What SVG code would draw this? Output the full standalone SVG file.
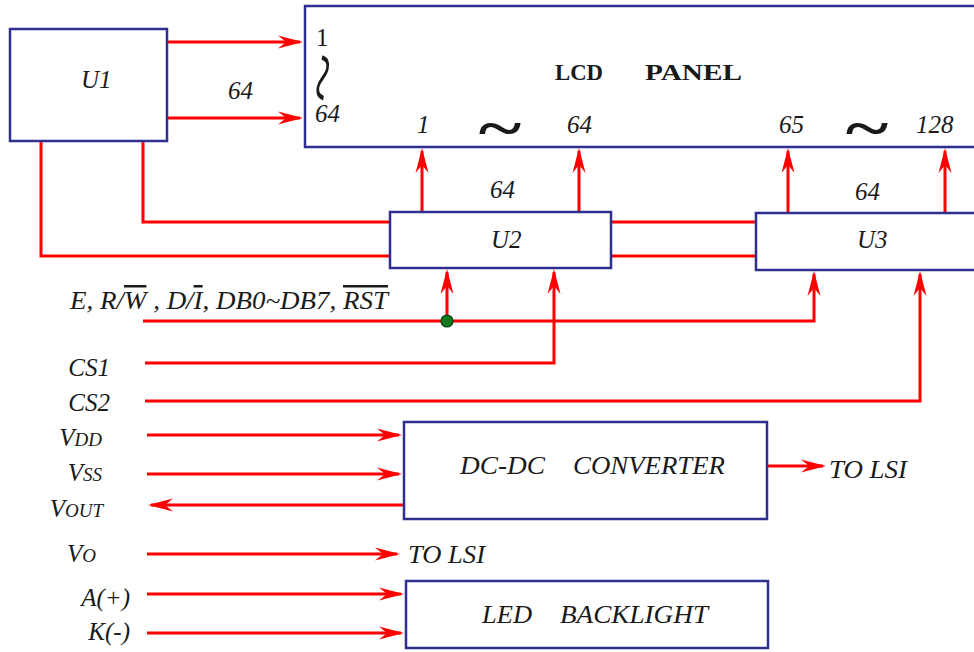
<svg xmlns="http://www.w3.org/2000/svg" width="974" height="652" viewBox="0 0 974 652">
<style>
.box{fill:#fff;stroke:#2f2f8f;stroke-width:2.5}
.w{fill:none;stroke:#ff0000;stroke-width:3}
.wa{fill:none;stroke:#ff0000;stroke-width:3;marker-end:url(#ah)}
.t{fill:#1a1a1a}
</style>
<defs>
<marker id="ah" markerUnits="userSpaceOnUse" viewBox="-24 -8 28 16" markerWidth="28" markerHeight="16" refX="0" refY="0" orient="auto">
<path d="M3,0 L-22,-6.5 L-14,0 L-22,6.5 Z" fill="#ff0000"/>
</marker>
</defs>
<rect width="974" height="652" fill="#fff"/>
<g font-family="'Liberation Serif', serif">
<g id="connectors">
<line class="wa" x1="167" y1="42" x2="300" y2="42"/>
<line class="wa" x1="167" y1="118" x2="300" y2="118"/>
<polyline class="w" points="41,141 41,256 390,256"/>
<polyline class="w" points="143,141 143,222 390,222"/>
<line class="w" x1="611" y1="222" x2="756" y2="222"/>
<line class="w" x1="611" y1="256" x2="756" y2="256"/>
<line class="wa" x1="422" y1="211" x2="422" y2="151"/>
<line class="wa" x1="579" y1="211" x2="579" y2="151"/>
<line class="wa" x1="788" y1="212" x2="788" y2="151"/>
<line class="wa" x1="945" y1="212" x2="945" y2="151"/>
<polyline class="wa" points="143,321 814,321 814,274"/>
<line class="wa" x1="447" y1="321" x2="447" y2="272"/>
<polyline class="wa" points="145,363 554,363 554,272"/>
<polyline class="wa" points="145,401 920,401 920,274"/>
<line class="wa" x1="147" y1="435" x2="399" y2="435"/>
<line class="wa" x1="147" y1="474" x2="399" y2="474"/>
<line class="wa" x1="404" y1="505" x2="151" y2="505"/>
<line class="wa" x1="147" y1="554" x2="397" y2="554"/>
<line class="wa" x1="147" y1="594" x2="401" y2="594"/>
<line class="wa" x1="147" y1="633" x2="401" y2="633"/>
<line class="wa" x1="767" y1="466" x2="823" y2="466"/>
<circle cx="447" cy="321" r="6" fill="#0b7a1e" stroke="#063d0f" stroke-width="1.2"/>
</g>

<g id="U1">
<rect class="box" x="10" y="29" width="157" height="112"/>
<text class="t" x="81" y="88" font-family="'Liberation Serif', serif" font-size="25" font-style="italic">U1</text>
</g>
<text class="t" x="228" y="99" font-family="'Liberation Serif', serif" font-size="25" font-style="italic">64</text>

<g id="LCD">
<rect class="box" x="305" y="6" width="700" height="141"/>
<text class="t" x="316" y="46" font-family="'Liberation Serif', serif" font-size="25">1</text>
<text class="t" transform="translate(323,78) rotate(100) scale(2.7,1.5)" font-family="'Liberation Serif', serif" font-size="34" text-anchor="middle" dominant-baseline="central">~</text>
<text class="t" x="315" y="122" font-family="'Liberation Serif', serif" font-size="25" font-style="italic">64</text>
<text class="t" x="555" y="80" font-family="'Liberation Serif', serif" font-size="24" font-weight="bold" textLength="48" lengthAdjust="spacingAndGlyphs">LCD</text>
<text class="t" x="645" y="80" font-family="'Liberation Serif', serif" font-size="24" font-weight="bold" textLength="97" lengthAdjust="spacingAndGlyphs">PANEL</text>
<text class="t" x="417" y="133" font-family="'Liberation Serif', serif" font-size="25" font-style="italic">1</text>
<text class="t" transform="translate(500,127) scale(2.4,1.7)" font-family="'Liberation Serif', serif" font-size="34" font-weight="bold" text-anchor="middle" dominant-baseline="central">~</text>
<text class="t" x="567" y="133" font-family="'Liberation Serif', serif" font-size="25" font-style="italic">64</text>
<text class="t" x="779" y="133" font-family="'Liberation Serif', serif" font-size="25" font-style="italic">65</text>
<text class="t" transform="translate(867,127) scale(2.4,1.7)" font-family="'Liberation Serif', serif" font-size="34" font-weight="bold" text-anchor="middle" dominant-baseline="central">~</text>
<text class="t" x="916" y="133" font-family="'Liberation Serif', serif" font-size="25" font-style="italic">128</text>
</g>
<text class="t" x="490" y="198" font-family="'Liberation Serif', serif" font-size="25" font-style="italic">64</text>
<text class="t" x="855" y="200" font-family="'Liberation Serif', serif" font-size="25" font-style="italic">64</text>

<g id="U2">
<rect class="box" x="390" y="212" width="221" height="56"/>
<text class="t" x="491" y="248" font-family="'Liberation Serif', serif" font-size="25" font-style="italic">U2</text>
</g>

<g id="U3">
<rect class="box" x="756" y="213" width="240" height="57"/>
<text class="t" x="857" y="248" font-family="'Liberation Serif', serif" font-size="25" font-style="italic">U3</text>
</g>

<g id="signals">
<text class="t" x="70" y="309" font-family="'Liberation Serif', serif" font-size="25" font-style="italic" textLength="318" lengthAdjust="spacingAndGlyphs">E, R/<tspan text-decoration="overline">W</tspan> , D/<tspan text-decoration="overline">I</tspan>, DB0~DB7, <tspan text-decoration="overline">RST</tspan></text>
<text class="t" x="110" y="376" font-family="'Liberation Serif', serif" font-size="25" font-style="italic" text-anchor="end">CS1</text>
<text class="t" x="110" y="411" font-family="'Liberation Serif', serif" font-size="25" font-style="italic" text-anchor="end">CS2</text>
<text class="t" x="102" y="446" font-family="'Liberation Serif', serif" font-size="25" font-style="italic" text-anchor="end">V<tspan font-size="19">DD</tspan></text>
<text class="t" x="102" y="481" font-family="'Liberation Serif', serif" font-size="25" font-style="italic" text-anchor="end">V<tspan font-size="19">SS</tspan></text>
<text class="t" x="103" y="517" font-family="'Liberation Serif', serif" font-size="25" font-style="italic" text-anchor="end">V<tspan font-size="19">OUT</tspan></text>
<text class="t" x="96" y="562" font-family="'Liberation Serif', serif" font-size="25" font-style="italic" text-anchor="end">V<tspan font-size="19">O</tspan></text>
<text class="t" x="130" y="606" font-family="'Liberation Serif', serif" font-size="25" font-style="italic" text-anchor="end">A(+)</text>
<text class="t" x="130" y="640" font-family="'Liberation Serif', serif" font-size="25" font-style="italic" text-anchor="end">K(-)</text>
</g>

<g id="DCDC">
<rect class="box" x="404" y="422" width="363" height="97"/>
<text class="t" x="460" y="474" font-family="'Liberation Serif', serif" font-size="25" font-style="italic" textLength="85" lengthAdjust="spacingAndGlyphs">DC-DC</text>
<text class="t" x="573" y="474" font-family="'Liberation Serif', serif" font-size="25" font-style="italic" textLength="152" lengthAdjust="spacingAndGlyphs">CONVERTER</text>
</g>
<text class="t" x="829" y="478" font-family="'Liberation Serif', serif" font-size="25" font-style="italic" textLength="78" lengthAdjust="spacingAndGlyphs">TO LSI</text>
<text class="t" x="408" y="563" font-family="'Liberation Serif', serif" font-size="25" font-style="italic" textLength="77" lengthAdjust="spacingAndGlyphs">TO LSI</text>

<g id="LED">
<rect class="box" x="406" y="581" width="362" height="67"/>
<text class="t" x="482" y="623" font-family="'Liberation Serif', serif" font-size="25" font-style="italic" textLength="50" lengthAdjust="spacingAndGlyphs">LED</text>
<text class="t" x="560" y="623" font-family="'Liberation Serif', serif" font-size="25" font-style="italic" textLength="148" lengthAdjust="spacingAndGlyphs">BACKLIGHT</text>
</g>
</g>
</svg>
